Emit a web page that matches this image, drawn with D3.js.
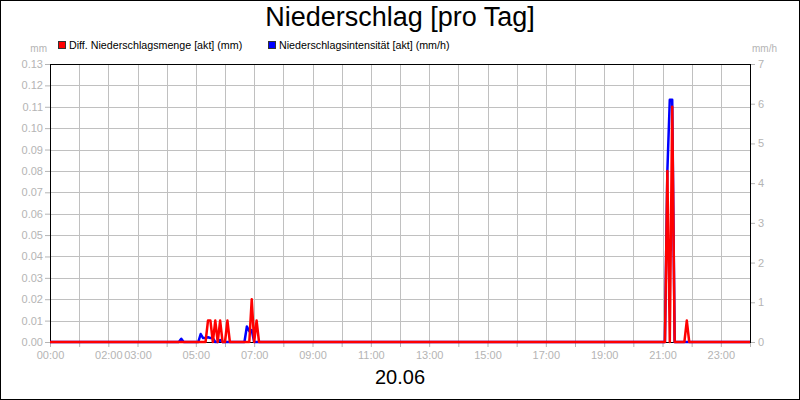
<!DOCTYPE html>
<html>
<head>
<meta charset="utf-8">
<script src="https://cdnjs.cloudflare.com/ajax/libs/d3/7.8.5/d3.min.js"></script>
<style>
  body { margin: 0; background: #fff; }
  svg { display: block; font-family: "Liberation Sans", Arial, sans-serif; }
</style>
</head>
<body>
<script>
    // red series: Diff. Niederschlagsmenge (mm), left axis
    var mengeTimes = ["00:00", "05:20", "05:25", "05:30", "05:35", "05:40", "05:45", "05:50", "05:55",
                      "06:00", "06:05", "06:10", "06:50", "06:55", "07:00", "07:05", "07:10",
                      "21:05", "21:10", "21:15", "21:20", "21:25", "21:45", "21:50", "21:55", "24:00"];
    var mengeValues = [0, 0, 0.01, 0.01, 0, 0.01, 0, 0.01, 0,
                       0, 0.01, 0, 0, 0.02, 0, 0.01, 0,
                       0, 0.08, 0, 0.11, 0, 0, 0.01, 0, 0];

    // blue series: Niederschlagsintensität (mm/h), right axis
    var intensTimes = ["00:00", "04:25", "04:30", "04:35", "05:05", "05:10", "05:15", "05:20", "05:25",
                       "05:30", "05:35", "05:40", "05:45", "05:50", "05:55", "06:40", "06:45",
                       "06:50", "06:55", "07:00", "21:05", "21:10", "21:15", "21:20", "21:25", "24:00"];
    var intensValues = [0, 0, 0.08, 0, 0, 0.2, 0.1, 0.1, 0.12,
                        0.1, 0.1, 0, 0, 0.05, 0, 0, 0.39,
                        0.27, 0.3, 0, 0, 4.3, 6.1, 6.1, 0, 0];

    // axis ticks
    var hourTicks = d3.range(0, 25);
    var hourLabels = ["00:00", "02:00", "03:00", "05:00", "07:00", "09:00", "11:00",
                      "13:00", "15:00", "17:00", "19:00", "21:00", "23:00"];
    var leftTicks = [0, 0.01, 0.02, 0.03, 0.04, 0.05, 0.06, 0.07, 0.08, 0.09, 0.1, 0.11, 0.12, 0.13];
    var rightTicks = [0, 1, 2, 3, 4, 5, 6, 7];

    var width = 800, height = 400;
    var plot = {left: 50, right: 750, top: 64, bottom: 342};
    var tickGray = "#b4b4b4";
    var gridGray = "#c0c0c0";

    function toHours(s) {
        var p = s.split(":");
        return +p[0] + (+p[1]) / 60;
    }

    var svg = d3.select("body").append("svg")
                .attr("width", width)
                .attr("height", height);

    svg.append("rect")
       .attr("x", 0.5).attr("y", 0.5)
       .attr("width", width - 1).attr("height", height - 1)
       .attr("fill", "#fff").attr("stroke", "#000");

    // Set the ranges
    var xScale = d3.scaleLinear().domain([0, 24]).range([plot.left, plot.right]);
    var yLeft = d3.scaleLinear().domain([0, 0.13]).range([plot.bottom, plot.top]);
    var yRight = d3.scaleLinear().domain([0, 7]).range([plot.bottom, plot.top]);

    // grid
    var grid = svg.append("g").attr("stroke", gridGray).attr("stroke-width", 1);
    grid.selectAll(".vgrid")
        .data(hourTicks.slice(1, -1))
        .enter().append("line")
        .attr("x1", function (d) { return Math.round(xScale(d)) + 0.5; })
        .attr("x2", function (d) { return Math.round(xScale(d)) + 0.5; })
        .attr("y1", plot.top).attr("y2", plot.bottom);
    grid.selectAll(".hgrid")
        .data(leftTicks.slice(1, -1))
        .enter().append("line")
        .attr("y1", function (d) { return Math.round(yLeft(d)) + 0.5; })
        .attr("y2", function (d) { return Math.round(yLeft(d)) + 0.5; })
        .attr("x1", plot.left).attr("x2", plot.right);

    // Define the axes
    var xAxis = d3.axisBottom(xScale)
                  .tickValues(hourTicks)
                  .tickSizeOuter(0)
                  .tickSize(5)
                  .tickPadding(4)
                  .tickFormat(function (d) {
                      var lbl = (d < 10 ? "0" : "") + d + ":00";
                      return hourLabels.indexOf(lbl) >= 0 ? lbl : "";
                  });
    var leftAxis = d3.axisLeft(yLeft)
                     .tickValues(leftTicks)
                     .tickSizeOuter(0)
                     .tickSize(5)
                     .tickPadding(2)
                     .tickFormat(d3.format(".2f"));
    var rightAxis = d3.axisRight(yRight)
                      .tickValues(rightTicks)
                      .tickSizeOuter(0)
                      .tickSize(5)
                      .tickPadding(3)
                      .tickFormat(d3.format("d"));

    function styleAxis(g) {
        g.select(".domain").remove();
        g.selectAll(".tick line").attr("stroke", tickGray);
        g.selectAll(".tick text")
         .attr("fill", tickGray)
         .style("font-size", "11px")
         .style("font-family", "'Liberation Sans', Arial, sans-serif");
    }

    svg.append("g")
       .attr("transform", "translate(0," + plot.bottom + ")")
       .call(xAxis)
       .call(styleAxis);

    svg.append("g")
       .attr("transform", "translate(" + plot.left + ",0)")
       .call(leftAxis)
       .call(styleAxis);

    svg.append("g")
       .attr("transform", "translate(" + plot.right + ",0)")
       .call(rightAxis)
       .call(styleAxis);

    // plot frame
    svg.append("rect")
       .attr("x", plot.left + 0.5).attr("y", plot.top + 0.5)
       .attr("width", plot.right - plot.left).attr("height", plot.bottom - plot.top)
       .attr("fill", "none").attr("stroke", "#000");

    // lines
    var intensLine = d3.line()
                       .x(function (d, i) { return xScale(toHours(intensTimes[i])); })
                       .y(function (d) { return yRight(d); });
    var mengeLine = d3.line()
                      .x(function (d, i) { return xScale(toHours(mengeTimes[i])); })
                      .y(function (d) { return yLeft(d); });

    svg.append("path")
       .datum(intensValues)
       .attr("d", intensLine)
       .attr("fill", "none")
       .attr("stroke", "#0000ff")
       .attr("stroke-width", 2.5)
       .attr("stroke-linejoin", "round");

    svg.append("path")
       .datum(mengeValues)
       .attr("d", mengeLine)
       .attr("fill", "none")
       .attr("stroke", "#ff0000")
       .attr("stroke-width", 2.5)
       .attr("stroke-linejoin", "round");

    // unit labels
    svg.append("text")
       .attr("x", 47).attr("y", 52)
       .attr("text-anchor", "end")
       .attr("fill", tickGray)
       .style("font-size", "10px")
       .text("mm");
    svg.append("text")
       .attr("x", 752).attr("y", 52)
       .attr("fill", tickGray)
       .style("font-size", "10px")
       .text("mm/h");

    // legend
    var legendItems = [
        {x: 58, color: "#ff0000", label: "Diff. Niederschlagsmenge [akt] (mm)"},
        {x: 268, color: "#0000ff", label: "Niederschlagsintensität [akt] (mm/h)"}
    ];
    var legend = svg.selectAll(".legend")
                    .data(legendItems)
                    .enter().append("g")
                    .attr("transform", function (d) { return "translate(" + d.x + ",41)"; });
    legend.append("rect")
          .attr("x", 0.5).attr("y", 0.5)
          .attr("width", 7).attr("height", 7)
          .attr("fill", function (d) { return d.color; })
          .attr("stroke", "#333");
    legend.append("text")
          .attr("x", 11).attr("y", 7.5)
          .style("font-size", "10.7px")
          .attr("fill", "#000")
          .text(function (d) { return d.label; });

    // title and date
    svg.append("text")
       .attr("x", 400).attr("y", 26)
       .attr("text-anchor", "middle")
       .style("font-size", "27px")
       .text("Niederschlag [pro Tag]");

    svg.append("text")
       .attr("x", 400).attr("y", 384)
       .attr("text-anchor", "middle")
       .style("font-size", "20px")
       .text("20.06");
</script>
</body>
</html>
